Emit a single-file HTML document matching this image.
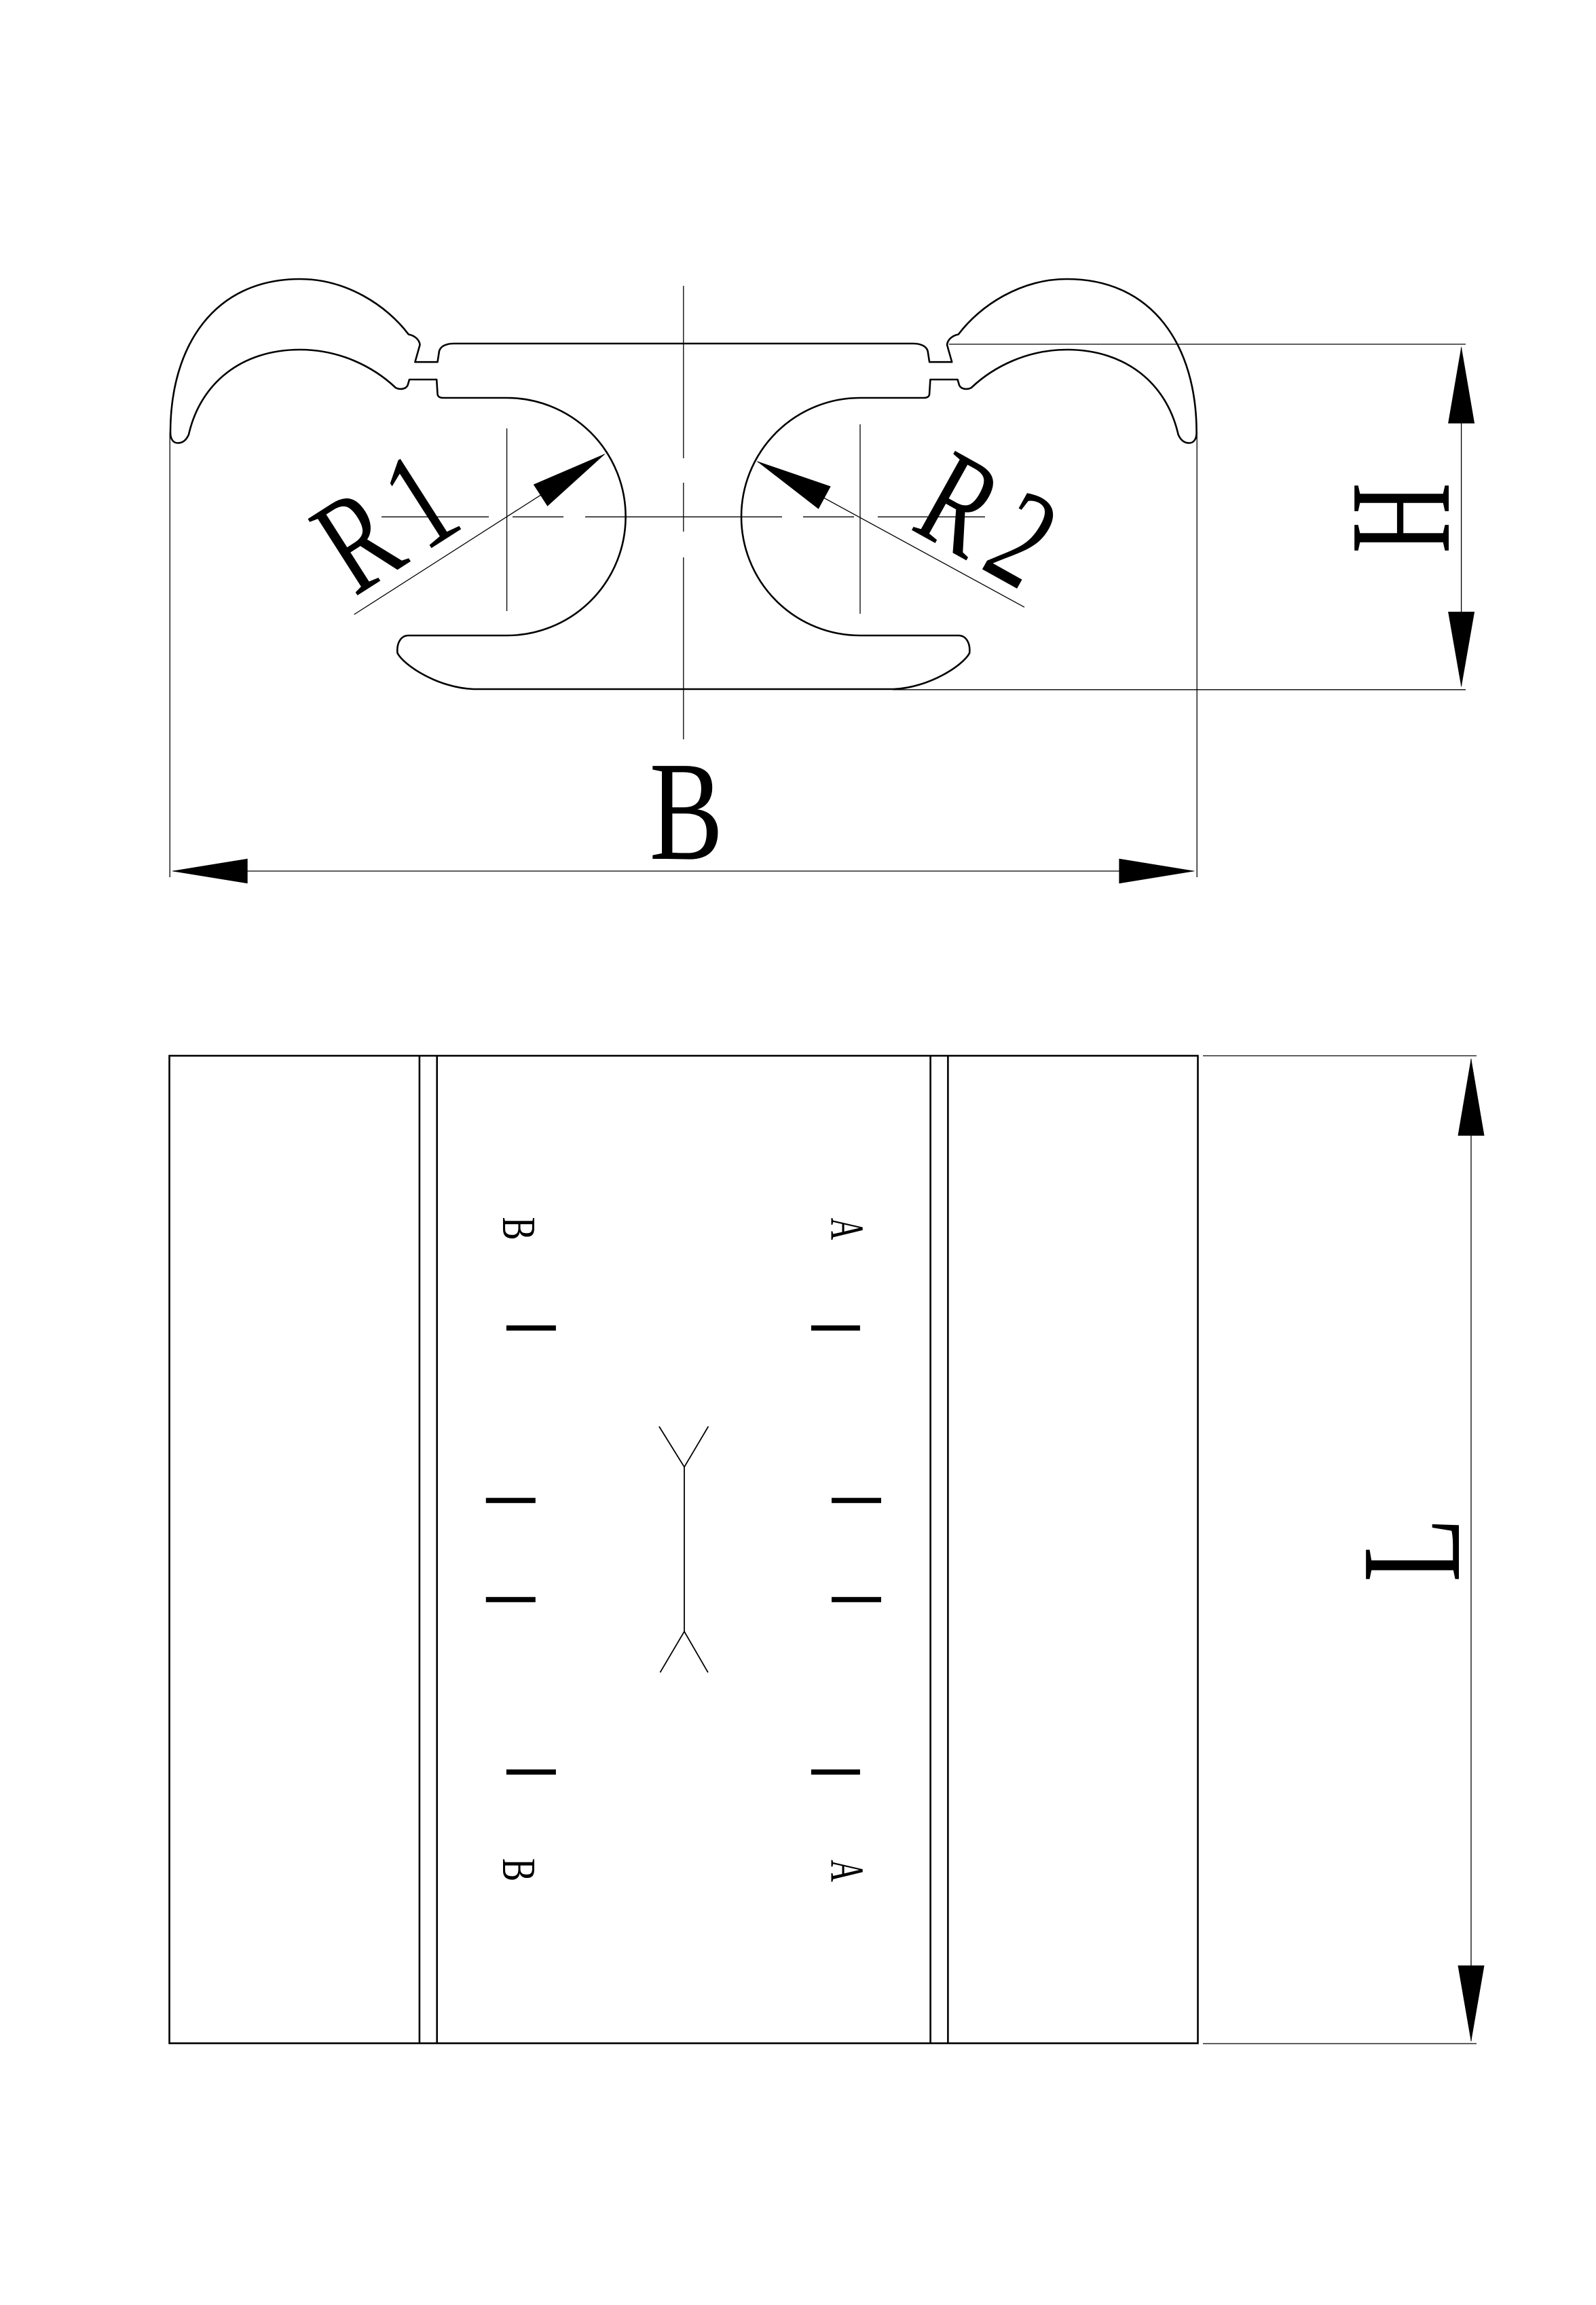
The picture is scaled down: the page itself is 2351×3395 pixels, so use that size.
<!DOCTYPE html>
<html>
<head>
<meta charset="utf-8">
<style>
  html, body { margin: 0; padding: 0; background: #fff; }
  svg { display: block; }
  text { font-family: "Liberation Serif", serif; fill: #000; }
</style>
</head>
<body>
<svg xmlns="http://www.w3.org/2000/svg" width="2351" height="3395" viewBox="0 0 2351 3395">
  <rect x="0" y="0" width="2351" height="3395" fill="#fff"/>

  <defs>
    <path id="half" fill="none" stroke="#000" stroke-width="2.6" stroke-linejoin="round"
      d="M1006.8,506 L668.7,506 C657,506 649,510 647,517 L644.5,533.2 L611.4,533.2 L618.5,508
         C618,500 610,494 601.8,492.5
         C570,450 510,411 442,411
         C315,411 251,510 251,637
         C251,648 256,652.5 262,652.5 C270,652.5 275,647 278,640
         C295,565 355,515 442,515
         C500,515 550,540 582.7,571
         C588,574 597,574 600.5,567.6 L603,559 L643.2,559 L644.5,580
         C644.5,584 648,586 652.8,586 L746.6,586
         A175,175 0 0 1 746.6,936
         L601.8,936 C590,936 584,948 585.5,962
         C595,980 645,1013 697.4,1015 L1006.8,1015"/>
  </defs>

  <!-- ===== TOP VIEW PROFILE ===== -->
  <use href="#half"/>
  <use href="#half" transform="translate(2013.6,0) scale(-1,1)"/>

  <!-- center lines (thin, dashed) -->
  <g stroke="#000" stroke-width="1.3" fill="none">
    <line x1="1006.8" y1="421" x2="1006.8" y2="675"/>
    <line x1="1006.8" y1="711" x2="1006.8" y2="783"/>
    <line x1="1006.8" y1="821" x2="1006.8" y2="1089"/>

    <line x1="562" y1="761.3" x2="720" y2="761.3"/>
    <line x1="755" y1="761.3" x2="830" y2="761.3"/>
    <line x1="862" y1="761.3" x2="1152" y2="761.3"/>
    <line x1="1183" y1="761.3" x2="1258" y2="761.3"/>
    <line x1="1293" y1="761.3" x2="1451" y2="761.3"/>

    <line x1="746.6" y1="631" x2="746.6" y2="900"/>
    <line x1="1267" y1="625" x2="1267" y2="904"/>

    <!-- B extension lines -->
    <line x1="250.2" y1="637" x2="250.2" y2="1292"/>
    <line x1="1763.2" y1="637" x2="1763.2" y2="1292"/>
    <!-- B dimension line -->
    <line x1="255" y1="1283" x2="1758" y2="1283"/>

    <!-- H extension lines -->
    <line x1="1398" y1="507" x2="2159" y2="507"/>
    <line x1="1315" y1="1015.8" x2="2159" y2="1015.8"/>
    <!-- H dimension line -->
    <line x1="2152.6" y1="512" x2="2152.6" y2="1010"/>

    <!-- R leaders -->
    <line x1="521.7" y1="905" x2="890" y2="669.3"/>
    <line x1="1509" y1="894.3" x2="1116" y2="680"/>
  </g>

  <!-- arrowheads top view -->
  <g fill="#000" stroke="none">
    <!-- B -->
    <polygon points="252.4,1283 364.7,1264.7 364.7,1301.3"/>
    <polygon points="1760.6,1283 1648.4,1264.7 1648.4,1301.3"/>
    <!-- H -->
    <polygon points="2152.6,510 2133.1,623.6 2172.1,623.6"/>
    <polygon points="2152.6,1012.5 2133.1,901 2172.1,901"/>
    <!-- R1 -->
    <polygon points="892,668 785.8,713.6 806.4,745.6"/>
    <!-- R2 -->
    <polygon points="1114.4,679 1223.7,716.4 1205.7,749.8"/>
  </g>

  <!-- top view texts -->
  <text x="0" y="0" font-size="209" text-anchor="middle" transform="translate(1011,1265) scale(0.78,1)">B</text>
  <text x="0" y="0" font-size="212" text-anchor="middle" transform="translate(2134,763) rotate(-90) scale(0.68,1)">H</text>
  <text x="0" y="0" font-size="205" transform="translate(522.2,879.7) rotate(-32.6) scale(0.72,1)">R<tspan dx="32">1</tspan></text>
  <text x="0" y="0" font-size="203" transform="translate(1338.5,778.1) rotate(29.1) scale(0.72,1)">R<tspan dx="28">2</tspan></text>

  <!-- ===== BOTTOM VIEW ===== -->
  <g stroke="#000" stroke-width="2.6" fill="none">
    <rect x="249.5" y="1555" width="1515" height="1454.5"/>
    <line x1="617.9" y1="1555" x2="617.9" y2="3009.5"/>
    <line x1="643.7" y1="1555" x2="643.7" y2="3009.5"/>
    <line x1="1370.6" y1="1555" x2="1370.6" y2="3009.5"/>
    <line x1="1396.4" y1="1555" x2="1396.4" y2="3009.5"/>
  </g>

  <!-- L dimension -->
  <g stroke="#000" stroke-width="1.3" fill="none">
    <line x1="1772" y1="1555" x2="2175" y2="1555"/>
    <line x1="1772" y1="3010" x2="2175" y2="3010"/>
    <line x1="2167" y1="1560" x2="2167" y2="3006"/>
  </g>
  <g fill="#000">
    <polygon points="2167,1558.3 2147.5,1672.7 2186.5,1672.7"/>
    <polygon points="2167,3007.8 2147.5,2894.9 2186.5,2894.9"/>
  </g>
  <text x="0" y="0" font-size="209" text-anchor="middle" transform="translate(2149,2283) rotate(-90) scale(0.74,1)">L</text>

  <!-- thick bars -->
  <g fill="#000">
    <rect x="745.9" y="1952.2" width="73" height="7.6"/>
    <rect x="1194.9" y="1952.2" width="72" height="7.6"/>
    <rect x="715.8" y="2206.2" width="73" height="7.6"/>
    <rect x="1225" y="2206.2" width="73" height="7.6"/>
    <rect x="715.8" y="2352.2" width="73" height="7.6"/>
    <rect x="1225" y="2352.2" width="73" height="7.6"/>
    <rect x="745.9" y="2606.2" width="73" height="7.6"/>
    <rect x="1194.9" y="2606.2" width="72" height="7.6"/>
  </g>

  <!-- Y-shaped mark -->
  <g stroke="#000" stroke-width="1.8" fill="none" stroke-linejoin="miter">
    <polyline points="970.9,2101 1008,2160.7 1043.4,2101"/>
    <line x1="1008" y1="2160.7" x2="1008" y2="2403"/>
    <polyline points="972.4,2463.3 1008,2403 1042.9,2463.3"/>
  </g>

  <!-- small letters -->
  <text x="0" y="0" font-size="70" text-anchor="middle" transform="translate(741,1809.5) rotate(90) scale(0.73,1)">B</text>
  <text x="0" y="0" font-size="70" text-anchor="middle" transform="translate(1224.5,1810) rotate(90) scale(0.65,1)">A</text>
  <text x="0" y="0" font-size="70" text-anchor="middle" transform="translate(741,2754) rotate(90) scale(0.73,1)">B</text>
  <text x="0" y="0" font-size="70" text-anchor="middle" transform="translate(1224.5,2755.5) rotate(90) scale(0.65,1)">A</text>
</svg>
</body>
</html>
